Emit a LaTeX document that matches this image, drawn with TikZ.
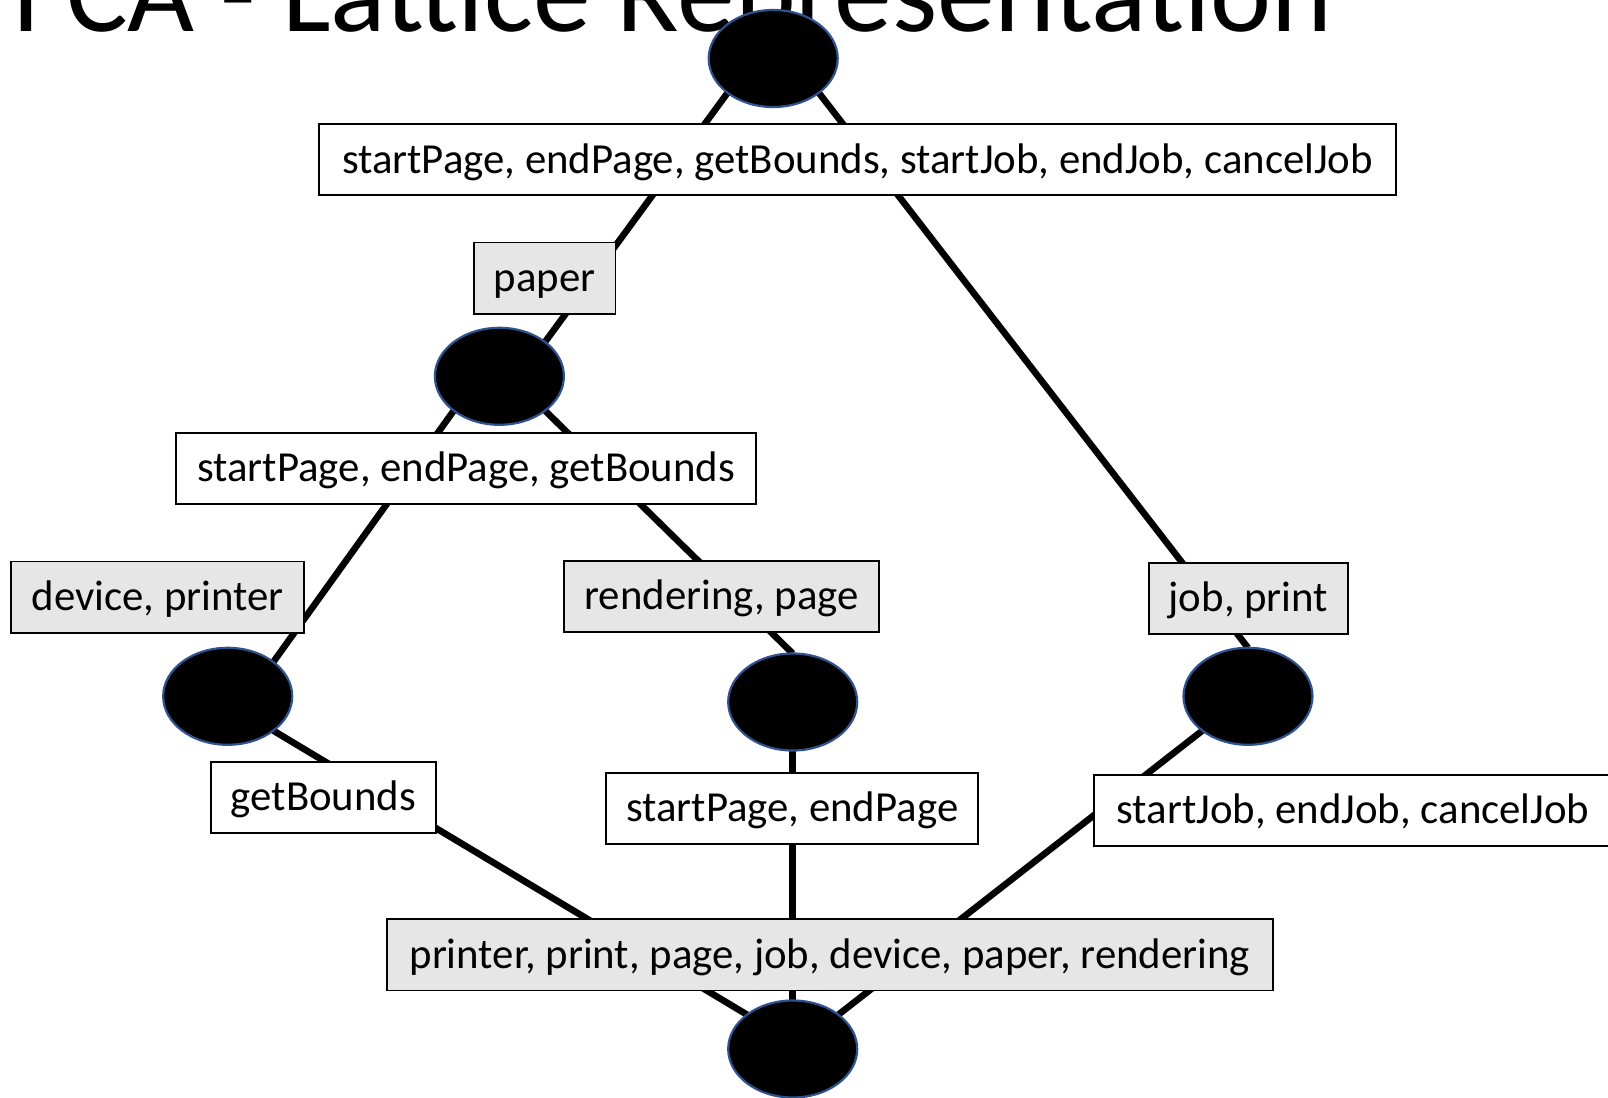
\documentclass[tikz,border=0pt]{standalone}
\usepackage{fontspec}
\setmainfont{Carlito}
\usetikzlibrary{shapes.geometric}
\definecolor{conceptblue}{HTML}{2F528F}
\definecolor{labelgray}{HTML}{E7E6E6}
\pgfdeclarelayer{bg}
\pgfdeclarelayer{edges}
\pgfsetlayers{bg,edges,main}
\begin{document}
\begin{tikzpicture}[x=0.5pt,y=-0.5pt,
  concept/.style={ellipse, fill=black, draw=conceptblue, line width=1.1pt,
    minimum width=64.5pt, minimum height=48.5pt, inner sep=0pt, outer sep=0pt},
  attrbox/.style={draw=black, line width=0.9pt, fill=white, inner sep=0pt, outer sep=0pt,
    font=\fontsize{21.4pt}{26pt}\selectfont, text height=15pt, text depth=1.6pt,
    minimum height=35.6pt},
  objbox/.style={attrbox, fill=labelgray},
  edge/.style={line width=3.3pt}
]
\useasboundingbox (0,0) rectangle (1608,1098);
\clip (0,0) rectangle (1608,1098);
\begin{pgfonlayer}{bg}
  \fill[white] (0,0) rectangle (1608,1098);
\end{pgfonlayer}

% heading, partly above the page edge
\node[anchor=base west, inner sep=0pt, outer sep=0pt] (title) at (14,31)
  {\resizebox{659pt}{!}{FCA - Lattice Representation}};

% concept nodes
\node[concept] (E1) at (773.2,58.5) {};
\node[concept] (E2) at (499.4,376.3) {};
\node[concept] (E3) at (227.7,696.3) {};
\node[concept] (E4) at (792.7,702) {};
\node[concept] (E5) at (1248,696.3) {};
\node[concept] (E6) at (792.7,1049) {};

% lattice edges
\begin{pgfonlayer}{edges}
  \draw[edge] (E1.south west) -- (E2.north east);
  \draw[edge] (E1.south east) -- (E5.north);
  \draw[edge] (E2.south west) -- (E3.north east);
  \draw[edge] (E2.south east) -- (E4.north);
  \draw[edge] (E3.south east) -- (E6.north west);
  \draw[edge] (E4.south) -- (E6.north);
  \draw[edge] (E5.south west) -- (E6.north east);
\end{pgfonlayer}

% attribute labels
\node[attrbox, minimum width=538.4pt] (B1) at (857.5,159.6)
  {startPage, endPage, getBounds, startJob, endJob, cancelJob};
\node[attrbox, minimum width=290pt] (B3) at (466.2,468.2)
  {startPage, endPage, getBounds};
\node[attrbox, minimum width=112.8pt] (B7) at (323.5,797.5) {getBounds};
\node[attrbox, minimum width=186pt] (B8) at (792.2,808.5) {startPage, endPage};
\node[attrbox, minimum width=259pt] (B9) at (1353,810.3)
  {startJob, endJob, cancelJob};

% object labels
\node[objbox, minimum width=70.8pt] (B2) at (544.6,278) {paper};
\node[objbox, minimum width=146.5pt] (B4) at (157.5,597) {device, printer};
\node[objbox, minimum width=157.3pt] (B5) at (721.6,596.3) {rendering, page};
\node[objbox, minimum width=99.8pt] (B6) at (1248.4,598.2) {job, print};
\node[objbox, minimum width=442.9pt] (B10) at (829.7,954.8)
  {printer, print, page, job, device, paper, rendering};
\end{tikzpicture}
\end{document}
